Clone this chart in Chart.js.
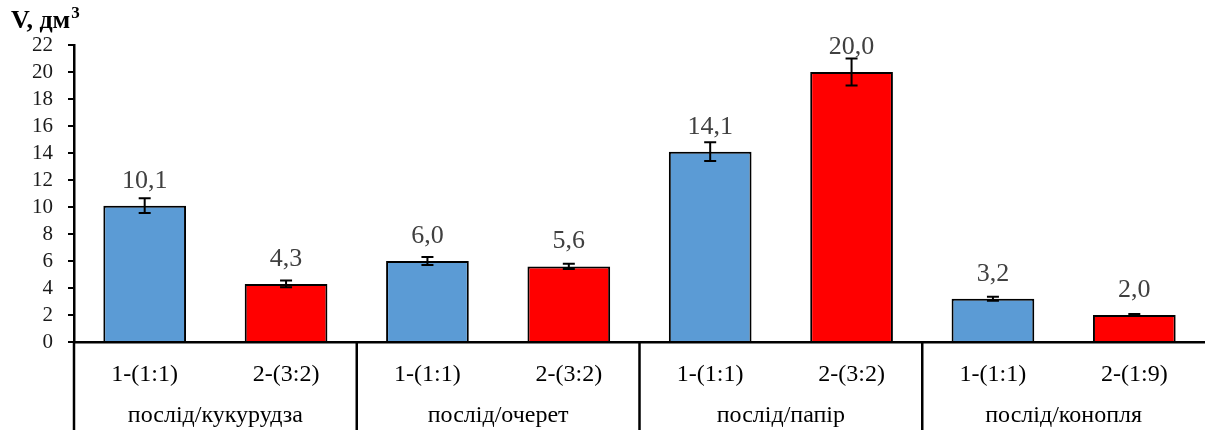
<!DOCTYPE html>
<html>
<head>
<meta charset="utf-8">
<script src="https://cdn.jsdelivr.net/npm/chart.js@4"></script>
<style>
  html, body { margin: 0; padding: 0; background: #fff; }
  #wrap { width: 1205px; height: 430px; position: relative; }
</style>
</head>
<body>
<div id="wrap"><canvas id="c"></canvas></div>
<script>
// Дані: варіант суміші, група субстратів, об'єм і похибка.
const variants = ["1-(1:1)", "2-(3:2)", "1-(1:1)", "2-(3:2)", "1-(1:1)", "2-(3:2)", "1-(1:1)", "2-(1:9)"];
const groups = ["послід/кукурудза", "послід/очерет", "послід/папір", "послід/конопля"];
const volumes = [10.1, 4.3, 6.0, 5.6, 14.1, 20.0, 3.2, 2.0];
const errors = [0.55, 0.25, 0.3, 0.2, 0.7, 1.0, 0.15, 0.07];
const yTicks = [0, 2, 4, 6, 8, 10, 12, 14, 16, 18, 20, 22];

const BLUE = "#5B9BD5";
const RED = "#FF0000";
const FONT = "'Liberation Serif', 'Times New Roman', serif";

// Похибки, підписи значень, група та розділювачі під віссю.
const extras = {
  id: "extras",
  afterDatasetsDraw(chart) {
    const { ctx, scales: { x, y } } = chart;
    const meta = chart.getDatasetMeta(0);
    ctx.save();
    ctx.strokeStyle = "#000";
    ctx.lineWidth = 2;
    meta.data.forEach((bar, i) => {
      const cx = bar.x;
      const top = y.getPixelForValue(volumes[i] + errors[i]);
      const bot = y.getPixelForValue(volumes[i] - errors[i]);
      ctx.beginPath();
      ctx.moveTo(cx, top); ctx.lineTo(cx, bot);
      ctx.moveTo(cx - 6, top); ctx.lineTo(cx + 6, top);
      ctx.moveTo(cx - 6, bot); ctx.lineTo(cx + 6, bot);
      ctx.stroke();
    });
    ctx.fillStyle = "#404040";
    ctx.font = "26px " + FONT;
    ctx.textAlign = "center";
    ctx.textBaseline = "alphabetic";
    meta.data.forEach((bar, i) => {
      ctx.fillText(volumes[i].toFixed(1).replace(".", ","), bar.x, bar.y - 18);
    });
    ctx.restore();
  },
  afterDraw(chart) {
    const { ctx, chartArea, scales: { x } } = chart;
    const axisY = chartArea.bottom;
    const H = chart.height;
    ctx.save();
    ctx.strokeStyle = "#000";
    ctx.lineWidth = 2.5;
    const per = variants.length / groups.length;
    for (let g = 0; g < groups.length; g++) {
      const px = g === 0
        ? chartArea.left
        : (x.getPixelForValue(g * per - 1) + x.getPixelForValue(g * per)) / 2;
      ctx.beginPath();
      ctx.moveTo(px, axisY);
      ctx.lineTo(px, H);
      ctx.stroke();
    }
    ctx.fillStyle = "#000";
    ctx.font = "24px " + FONT;
    ctx.textAlign = "center";
    ctx.textBaseline = "middle";
    groups.forEach((name, g) => {
      const a = x.getPixelForValue(g * per);
      const b = x.getPixelForValue(g * per + per - 1);
      ctx.fillText(name, (a + b) / 2, 416);
    });
    // Назва осі з надрядковою трійкою
    ctx.font = "bold 26px " + FONT;
    ctx.textAlign = "left";
    ctx.textBaseline = "alphabetic";
    ctx.fillText("V, дм", 11, 28);
    const w = ctx.measureText("V, дм").width;
    ctx.font = "bold 17px " + FONT;
    ctx.fillText("3", 11 + w + 1, 18);
    ctx.restore();
  }
};

new Chart(document.getElementById("c"), {
  type: "bar",
  data: {
    labels: variants,
    datasets: [{
      data: volumes,
      backgroundColor: volumes.map((_, i) => i % 2 === 0 ? BLUE : RED),
      borderColor: "#000",
      borderWidth: 2,
      categoryPercentage: 1,
      barPercentage: 0.585
    }]
  },
  options: {
    responsive: true,
    maintainAspectRatio: false,
    animation: false,
    layout: { padding: { top: 45, right: 0, left: 0, bottom: 0 } },
    plugins: { legend: { display: false }, tooltip: { enabled: false } },
    scales: {
      x: {
        grid: { display: false },
        border: { display: true, color: "#000", width: 2.5 },
        ticks: { color: "#000", font: { family: FONT, size: 24 }, padding: 10, maxRotation: 0, autoSkip: false },
        afterFit(scale) { scale.height = 88; }
      },
      y: {
        min: 0,
        max: 22,
        afterBuildTicks(scale) { scale.ticks = yTicks.map(v => ({ value: v })); },
        grid: { drawOnChartArea: false, color: "#000", lineWidth: 2, tickLength: 6 },
        border: { display: true, color: "#000", width: 2.5 },
        ticks: { color: "#1a1a1a", font: { family: FONT, size: 21 }, padding: 15, autoSkip: false },
        afterFit(scale) { scale.width = 74; }
      }
    }
  },
  plugins: [extras]
});
</script>
</body>
</html>
